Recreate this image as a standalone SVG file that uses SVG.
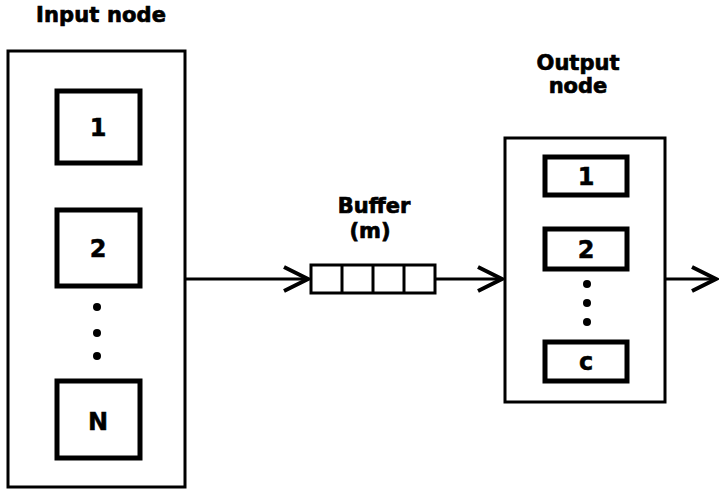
<svg xmlns="http://www.w3.org/2000/svg" width="719" height="490" viewBox="0 0 719 490">
  <style>
    .frame { fill: #fff; stroke: #000; stroke-width: 3; }
    .slot { fill: #fff; stroke: #000; stroke-width: 5; }
    .cell { fill: #fff; stroke: #000; stroke-width: 3; }
    .title { font-family: "DejaVu Sans", Verdana, sans-serif; font-weight: bold; font-size: 21px; fill: #000; stroke: #000; stroke-width: 0.7; text-anchor: middle; }
    .label { font-family: "DejaVu Sans", Verdana, sans-serif; font-weight: bold; font-size: 24px; fill: #000; stroke: #000; stroke-width: 0.5; text-anchor: middle; }
    .wire { fill: none; stroke: #000; stroke-width: 3; }
    .dot { fill: #000; }
  </style>
  <defs>
    <marker id="chev" markerUnits="userSpaceOnUse" markerWidth="30" markerHeight="32" refX="26" refY="14" orient="auto">
      <path d="M2,2 L26,14 L2,26" fill="none" stroke="#000" stroke-width="4"/>
    </marker>
  </defs>
  <rect width="719" height="490" fill="#fff"/>

  <!-- input node with its N sources -->
  <g id="input-node">
    <text class="title" x="101" y="22" textLength="130">Input node</text>
    <rect class="frame" x="8" y="51" width="177" height="436"/>
    <g id="in-1">
      <rect class="slot" x="57" y="91" width="83" height="72"/>
      <text class="label" x="98" y="136">1</text>
    </g>
    <g id="in-2">
      <rect class="slot" x="57" y="210" width="83" height="76"/>
      <text class="label" x="98" y="257">2</text>
    </g>
    <circle class="dot" cx="97" cy="307" r="4"/>
    <circle class="dot" cx="97" cy="333" r="4"/>
    <circle class="dot" cx="97" cy="356" r="4"/>
    <g id="in-n">
      <rect class="slot" x="57" y="381" width="83" height="77"/>
      <text class="label" x="98" y="430">N</text>
    </g>
  </g>

  <!-- buffer of size m -->
  <g id="buffer">
    <text class="title" x="374" y="213">Buffer</text>
    <text class="title" x="370" y="238">(m)</text>
    <rect class="cell" x="311" y="265" width="124" height="28"/>
    <line class="cell" x1="342" y1="265" x2="342" y2="293"/>
    <line class="cell" x1="373" y1="265" x2="373" y2="293"/>
    <line class="cell" x1="404" y1="265" x2="404" y2="293"/>
  </g>

  <!-- output node with c servers -->
  <g id="output-node">
    <text class="title" x="578" y="70">Output</text>
    <text class="title" x="578" y="93">node</text>
    <rect class="frame" x="505" y="138" width="160" height="264"/>
    <g id="out-1">
      <rect class="slot" x="545" y="157" width="82" height="38"/>
      <text class="label" x="586" y="185">1</text>
    </g>
    <g id="out-2">
      <rect class="slot" x="545" y="229" width="82" height="40"/>
      <text class="label" x="586" y="258">2</text>
    </g>
    <circle class="dot" cx="587" cy="284" r="4"/>
    <circle class="dot" cx="587" cy="303" r="4"/>
    <circle class="dot" cx="587" cy="322" r="4"/>
    <g id="out-c">
      <rect class="slot" x="545" y="342" width="82" height="39"/>
      <text class="label" x="586" y="370">c</text>
    </g>
  </g>

  <g id="connectors">
    <line class="wire" x1="185" y1="279" x2="308" y2="279" marker-end="url(#chev)"/>
    <line class="wire" x1="435" y1="279" x2="502" y2="279" marker-end="url(#chev)"/>
    <line class="wire" x1="665" y1="279" x2="716" y2="279" marker-end="url(#chev)"/>
  </g>
</svg>
